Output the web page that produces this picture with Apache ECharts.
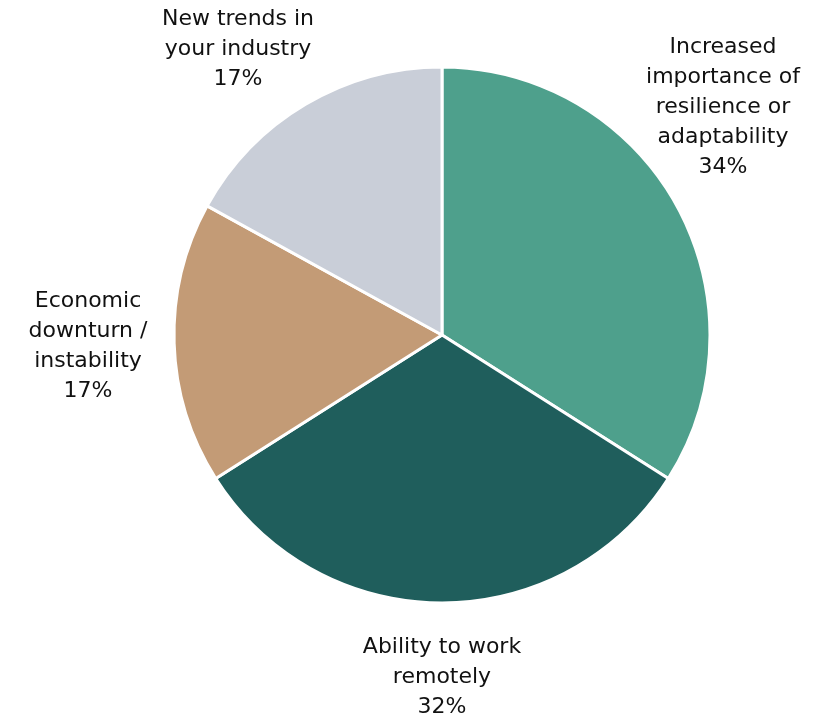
<!DOCTYPE html>
<html>
<head>
<meta charset="utf-8">
<script src="https://cdn.jsdelivr.net/npm/echarts@6/dist/echarts.min.js"></script>
<style>
html,body{margin:0;padding:0;background:#fff;}
#chart{width:827px;height:721px;}
</style>
</head>
<body>
<div id="chart"></div>
<script>
var categories = [
  'Increased\nimportance of\nresilience or\nadaptability',
  'Ability to work\nremotely',
  'Economic\ndownturn /\ninstability',
  'New trends in\nyour industry'
];
var values = [34, 32, 17, 17];
var colors = ['#4ea08c', '#1f5e5c', '#c39b76', '#c9ced8'];
var labelPos = [[723, 107], [442, 677], [88, 346], [238, 49]];

var chart = echarts.init(document.getElementById('chart'));
chart.setOption({
  animation: false,
  series: [{
    type: 'pie',
    center: [442, 335],
    radius: [0, 268],
    startAngle: 90,
    clockwise: true,
    data: categories.map(function (c, i) {
      return { name: c, value: values[i], itemStyle: { color: colors[i] } };
    }),
    itemStyle: { borderColor: '#ffffff', borderWidth: 3 },
    label: {
      show: true,
      position: 'outside',
      alignTo: 'none',
      overflow: 'none',
      formatter: '{b}\n{c}%',
      fontFamily: '"DejaVu Sans", sans-serif',
      fontSize: 22,
      lineHeight: 30,
      color: '#111111',
      align: 'center'
    },
    labelLine: { show: false },
    labelLayout: function (p) {
      var pos = labelPos[p.dataIndex];
      return { x: pos[0], y: pos[1], align: 'center', verticalAlign: 'middle' };
    },
    emphasis: { disabled: true }
  }]
});
</script>
</body>
</html>
